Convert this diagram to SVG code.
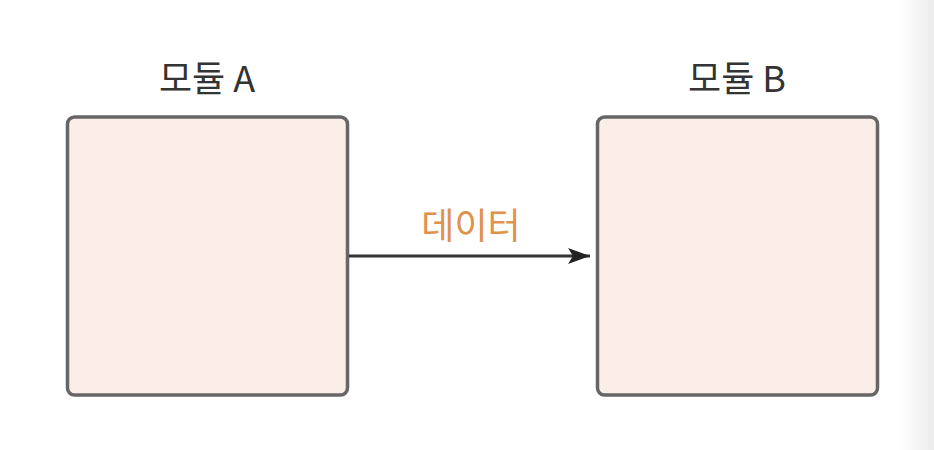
<svg xmlns="http://www.w3.org/2000/svg" width="934" height="450" viewBox="0 0 934 450">
<style>
.box{fill:#fbeee8;stroke:#666;stroke-width:3.5}
.title{font-family:"Noto Sans CJK KR","Liberation Sans",sans-serif;font-size:36px;fill:#333;text-anchor:middle}
.lbl{font-family:"Noto Sans CJK KR","Liberation Sans",sans-serif;font-size:36px;fill:#e0914c;text-anchor:middle}
.conn{stroke:#333;stroke-width:3;fill:none}
</style>
<defs>
<linearGradient id="edge" x1="0" y1="0" x2="1" y2="0">
<stop offset="0" stop-color="#ffffff"/>
<stop offset="1" stop-color="#ececec"/>
</linearGradient>
<marker id="arr" markerWidth="24" markerHeight="18" refX="22" refY="9" orient="auto" markerUnits="userSpaceOnUse">
<path d="M0,1 L22,9 L0,17 L5,9 Z" fill="#222"/>
</marker>
</defs>
<rect width="934" height="450" fill="#fff"/>
<rect x="900" y="0" width="34" height="450" fill="url(#edge)"/>
<g id="moduleA">
<rect class="box" x="67.5" y="117" width="280" height="278" rx="7"/>
<text class="title" x="207" y="92">모듈 A</text>
</g>
<g id="moduleB">
<rect class="box" x="597.5" y="117" width="280" height="278" rx="7"/>
<text class="title" x="737" y="92">모듈 B</text>
</g>
<g id="connectors">
<line class="conn" x1="349" y1="256" x2="590" y2="256" marker-end="url(#arr)"/>
<text class="lbl" x="471" y="239">데이터</text>
</g>
</svg>
